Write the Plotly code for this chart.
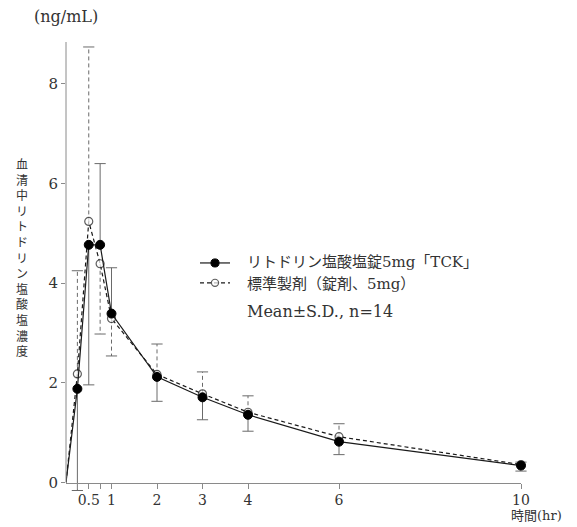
import plotly.graph_objects as go

# ---- data ----
time_hr = [0, 0.25, 0.5, 0.75, 1, 2, 3, 4, 6, 10]

tck_mean = [0, 1.88, 4.77, 4.77, 3.39, 2.12, 1.71, 1.36, 0.82, 0.34]
tck_sd = [0, 2.04, 2.81, 1.63, 0.92, 0.49, 0.45, 0.33, 0.26, 0.11]
tck_dir = [0, -1, -1, 1, 1, -1, -1, -1, -1, -1]   # error bar drawn up (+1) or down (-1)

std_mean = [0, 2.18, 5.24, 4.39, 3.29, 2.17, 1.78, 1.41, 0.92, 0.36]
std_sd = [0, 2.07, 3.50, 1.41, 0.75, 0.61, 0.44, 0.33, 0.26, 0.05]
std_dir = [0, 1, 1, -1, -1, 1, 1, 1, 1, 1]

tick_vals = [0.25, 0.5, 0.75, 1, 2, 3, 4, 6, 10]
tick_text = ["", "0.5", "", "1", "2", "3", "4", "6", "10"]
y_ticks = [0, 2, 4, 6, 8]

name_tck = "リトドリン塩酸塩錠5mg「TCK」"
name_std = "標準製剤（錠剤、5mg）"
note = "Mean±S.D., n=14"
y_title = "血清中リトドリン塩酸塩濃度"
x_title = "時間(hr)"
y_unit = "(ng/mL)"

Y_MIN, Y_MAX = -0.25, 8.84
FONT = "DejaVu Serif, Noto Sans CJK JP, serif"
BAR_COLOR = "#6a6a6a"
AXIS_COLOR = "#8a8a8a"
INK = "#1a1a1a"
TXT = "#333333"

W, H = 577, 527
ML, MR, MT, MB = 66, 56, 42, 32
PW, PH = W - ML - MR, H - MT - MB


def px_x(px):
    return (px - ML) / PW


def px_y(py):
    return (H - MB - py) / PH


def err_segments(t, m, sd, d):
    xs, ys, cx, cy = [], [], [], []
    for ti, mi, si, di in zip(t, m, sd, d):
        if si == 0:
            continue
        end = mi + di * si
        xs += [ti, ti, None]
        ys += [mi, end, None]
        cx.append(ti)
        cy.append(end)
    return xs, ys, cx, cy


# no marker at the origin (dosing time)
sizes_open = [0 if t == 0 else 8 for t in time_hr]
sizes_fill = [0 if t == 0 else 9 for t in time_hr]

fig = go.Figure()

for mean, sd, d, dash in [(std_mean, std_sd, std_dir, "4px,3px"),
                          (tck_mean, tck_sd, tck_dir, "solid")]:
    xs, ys, cx, cy = err_segments(time_hr, mean, sd, d)
    fig.add_trace(go.Scatter(x=xs, y=ys, mode="lines", showlegend=False,
                             line=dict(color=BAR_COLOR, width=1, dash=dash),
                             hoverinfo="skip"))
    fig.add_trace(go.Scatter(x=cx, y=cy, mode="markers", showlegend=False,
                             cliponaxis=False, hoverinfo="skip",
                             marker=dict(symbol="line-ew", size=8,
                                         line=dict(color=BAR_COLOR, width=1))))

fig.add_trace(go.Scatter(
    x=time_hr, y=std_mean, mode="lines+markers", name=" ",
    cliponaxis=False,
    line=dict(color=INK, width=1.2, dash="4px,3px"),
    marker=dict(symbol="circle", size=sizes_open, color="white",
                line=dict(color=INK, width=1.2))))
fig.add_trace(go.Scatter(
    x=time_hr, y=tck_mean, mode="lines+markers", name=" ",
    cliponaxis=False,
    line=dict(color=INK, width=1.2),
    marker=dict(symbol="circle", size=sizes_fill, color="#000000",
                opacity=1, line=dict(color="#000000", width=1))))

x_axis_pos = (0 - Y_MIN) / (Y_MAX - Y_MIN)

fig.update_layout(
    width=W, height=H,
    margin=dict(l=ML, r=MR, t=MT, b=MB),
    paper_bgcolor="white", plot_bgcolor="white",
    font=dict(family=FONT, size=14, color=TXT),
    xaxis=dict(range=[0, 10], anchor="free", position=x_axis_pos,
               showline=True, linecolor=AXIS_COLOR, linewidth=1,
               ticks="outside", ticklen=5, tickcolor=AXIS_COLOR,
               tickvals=tick_vals, ticktext=tick_text,
               showgrid=False, zeroline=False,
               tickfont=dict(size=14, color=TXT)),
    yaxis=dict(range=[Y_MIN, Y_MAX], tickvals=y_ticks,
               showline=False, showgrid=False, zeroline=False,
               ticks="outside", ticklen=4, tickcolor=AXIS_COLOR,
               tickfont=dict(size=15, color=TXT)),
    legend=dict(x=px_x(195), y=px_y(248), xanchor="left", yanchor="top",
                traceorder="reversed", bgcolor="rgba(0,0,0,0)",
                font=dict(family=FONT, size=13, color=TXT),
                itemwidth=30, tracegroupgap=0),
    shapes=[dict(type="line", xref="paper", yref="paper",
                 x0=0, x1=0, y0=x_axis_pos, y1=1,
                 line=dict(color=AXIS_COLOR, width=1))],
    annotations=[
        dict(text=name_tck, xref="paper", yref="paper",
             x=px_x(245), y=px_y(262), xanchor="left", yanchor="middle",
             showarrow=False, font=dict(family=FONT, size=15, color=TXT)),
        dict(text=name_std, xref="paper", yref="paper",
             x=px_x(245), y=px_y(284), xanchor="left", yanchor="middle",
             showarrow=False, font=dict(family=FONT, size=15, color=TXT)),
        dict(text=note, xref="paper", yref="paper",
             x=px_x(245), y=px_y(312), xanchor="left", yanchor="middle",
             showarrow=False, font=dict(family=FONT, size=16, color=TXT)),
        dict(text=y_unit, xref="paper", yref="paper",
             x=px_x(66), y=px_y(17), xanchor="center", yanchor="middle",
             showarrow=False, font=dict(family=FONT, size=16, color=TXT)),
        dict(text="<br>".join(list(y_title)), xref="paper", yref="paper",
             x=px_x(22), y=px_y(257), xanchor="center", yanchor="middle",
             showarrow=False,
             font=dict(family="Noto Sans CJK JP", size=12, color=TXT)),
        dict(text=x_title, xref="paper", yref="paper",
             x=px_x(536), y=px_y(515), xanchor="center", yanchor="middle",
             showarrow=False, font=dict(family=FONT, size=13, color=TXT)),
    ],
)

fig.write_html("out.html", config={"displayModeBar": False},
               post_script="document.body.style.margin='0px';")
